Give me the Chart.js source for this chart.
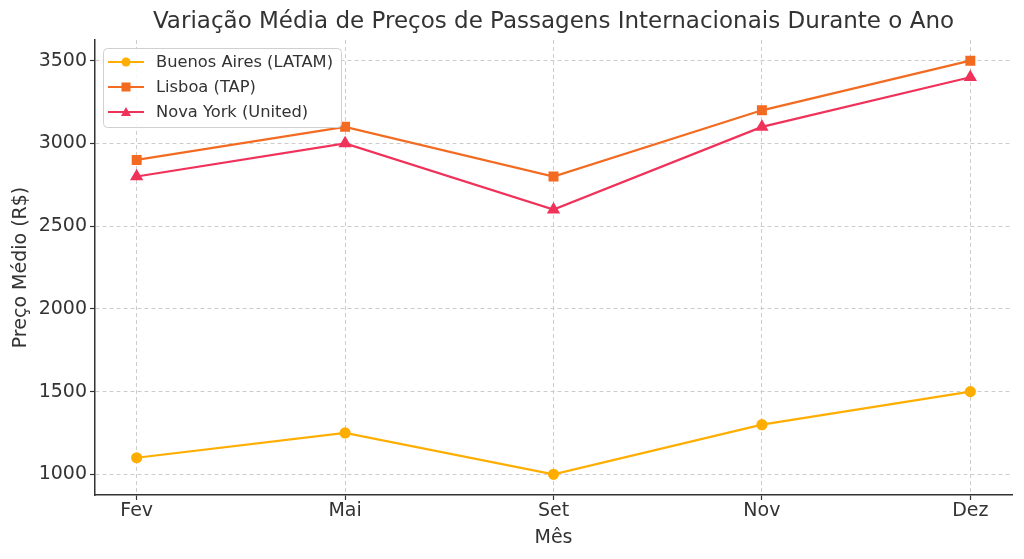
<!DOCTYPE html>
<html><head><meta charset="utf-8">
<script src="https://cdn.jsdelivr.net/npm/chart.js@4/dist/chart.umd.min.js"></script>
<style>html,body{margin:0;padding:0;background:#fff}#wrap{width:1024px;height:559px}</style>
</head><body><div id="wrap"><canvas id="c" width="1024" height="559"></canvas></div>
<script>
const months = ["Fev", "Mai", "Set", "Nov", "Dez"];
const buenosAires = [1100, 1250, 1000, 1300, 1500];
const lisboa = [2900, 3100, 2800, 3200, 3500];
const novaYork = [2800, 3000, 2600, 3100, 3400];
const yTicks = [1000, 1500, 2000, 2500, 3000, 3500];
const chartTitle = 'Variação Média de Preços de Passagens Internacionais Durante o Ano';

const FONT = "'DejaVu Sans', sans-serif";
const toPts = arr => arr.map((v, i) => ({x: i, y: v}));

const titlePlugin = {
  id: 'areaTitle',
  afterDraw(chart) {
    const ctx = chart.ctx, a = chart.chartArea;
    ctx.save();
    ctx.fillStyle = '#333';
    ctx.font = '23px ' + FONT;
    ctx.textAlign = 'center';
    ctx.textBaseline = 'middle';
    ctx.fillText(chartTitle, (a.left + a.right) / 2, 22);
    ctx.restore();
  }
};

const legendPlugin = {
  id: 'boxLegend',
  afterDraw(chart) {
    const ctx = chart.ctx;
    const x0 = 103.5, y0 = 48.5, w = 238, h = 79, r = 4;
    ctx.save();
    ctx.fillStyle = 'rgba(255,255,255,0.85)';
    ctx.strokeStyle = '#d0d0d0';
    ctx.lineWidth = 1;
    ctx.beginPath();
    ctx.roundRect(x0, y0, w, h, r);
    ctx.fill(); ctx.stroke();
    chart.data.datasets.forEach((ds, i) => {
      const y = 62 + i * 25;
      ctx.strokeStyle = ds.borderColor;
      ctx.lineWidth = 2;
      ctx.beginPath(); ctx.moveTo(108, y); ctx.lineTo(144, y); ctx.stroke();
      ctx.fillStyle = ds.borderColor;
      const cx = 126;
      if (ds.pointStyle === 'circle') { ctx.beginPath(); ctx.arc(cx, y, 4.5, 0, Math.PI*2); ctx.fill(); }
      else if (ds.pointStyle === 'rect') { ctx.fillRect(cx-4.5, y-4.5, 9, 9); }
      else { ctx.beginPath(); ctx.moveTo(cx, y-5); ctx.lineTo(cx+5, y+4); ctx.lineTo(cx-5, y+4); ctx.closePath(); ctx.fill(); }
      ctx.fillStyle = '#333';
      ctx.font = '16.3px ' + FONT;
      ctx.textBaseline = 'middle';
      ctx.textAlign = 'left';
      ctx.fillText(ds.label, 156, y + 1);
    });
    ctx.restore();
  }
};

new Chart(document.getElementById('c'), {
  type: 'line',
  data: {
    datasets: [
      {label: 'Buenos Aires (LATAM)', data: toPts(buenosAires), borderColor: '#FFAE00', backgroundColor: '#FFAE00', pointStyle: 'circle', pointRadius: 4.5, borderWidth: 2.2},
      {label: 'Lisboa (TAP)', data: toPts(lisboa), borderColor: '#F26B21', backgroundColor: '#F26B21', pointStyle: 'rect', pointRadius: 5.5, borderWidth: 2.2},
      {label: 'Nova York (United)', data: toPts(novaYork), borderColor: '#F0325A', backgroundColor: '#F0325A', pointStyle: 'triangle', pointRadius: 5.5, borderWidth: 2.2}
    ]
  },
  options: {
    responsive: false,
    animation: false,
    layout: {padding: {left: 0, right: 12, top: 40, bottom: 0}},
    plugins: {
      legend: {display: false},
      tooltip: {enabled: false},
      title: {display: false}
    },
    scales: {
      x: {
        type: 'linear', min: -0.2, max: 4.2,
        afterFit(s) { s.height = 64; },
        afterBuildTicks(s) { s.ticks = months.map((m, i) => ({value: i})); },
        ticks: {callback: (v) => months[v] ?? '', color: '#333', font: {family: FONT, size: 19}, padding: 0, maxRotation: 0, autoSkip: false},
        grid: {color: '#cccccc', tickLength: 5, tickColor: '#333', tickBorderDash: [], tickWidth: 1.2},
        border: {display: true, color: '#333', width: 1.5, dash: [4, 3]},
        title: {display: true, text: 'Mês', color: '#333', font: {family: FONT, size: 19}, padding: {top: 2, bottom: 10}}
      },
      y: {
        min: 875, max: 3625,
        afterFit(s) { s.width = 95; },
        afterBuildTicks(s) { s.ticks = yTicks.map(v => ({value: v})); },
        ticks: {callback: (v) => String(v), color: '#333', font: {family: FONT, size: 19}, padding: 3},
        grid: {color: '#cccccc', tickLength: 5, tickColor: '#333', tickBorderDash: [], tickWidth: 1.2},
        border: {display: true, color: '#333', width: 1.5, dash: [4, 3]},
        title: {display: true, text: 'Preço Médio (R$)', color: '#333', font: {family: FONT, size: 19}, padding: {top: 10, bottom: 4}}
      }
    }
  },
  plugins: [titlePlugin, legendPlugin]
});
</script></body></html>
